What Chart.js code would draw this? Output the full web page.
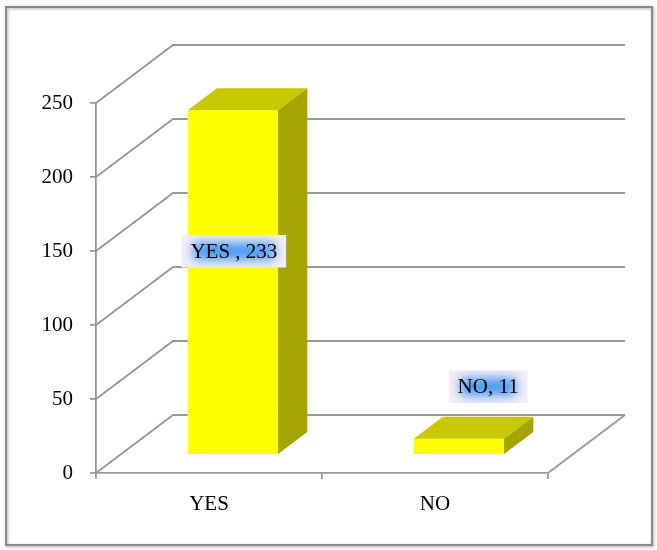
<!DOCTYPE html>
<html>
<head>
<meta charset="utf-8">
<script src="https://cdn.jsdelivr.net/npm/chart.js@4/dist/chart.umd.min.js"></script>
<style>
  html, body { margin: 0; padding: 0; background: #fff; }
  #wrap { width: 657px; height: 550px; position: relative; }
</style>
</head>
<body>
<div id="wrap"><canvas id="myChart"></canvas></div>
<script>
var categories = ['YES', 'NO'];
var counts = [233, 11];
var labelTexts = ['YES , 233', 'NO, 11'];
var yTicks = [0, 50, 100, 150, 200, 250];

// oblique depth of the walls and of the bars inside them
var DEPTH_X = 77, DEPTH_Y = -58;
var BAR_FRONT = 0.31, BAR_BACK = 0.69;
var GRID = '#989898';
var FONT = '"Liberation Serif", "Times New Roman", serif';

function poly(ctx, pts, fill) {
  ctx.beginPath();
  ctx.moveTo(pts[0][0], pts[0][1]);
  for (var i = 1; i < pts.length; i++) ctx.lineTo(pts[i][0], pts[i][1]);
  ctx.closePath();
  ctx.fillStyle = fill;
  ctx.fill();
}

function drawLabel(ctx, text, cx, cy) {
  ctx.save();
  ctx.font = '21px ' + FONT;
  var w = ctx.measureText(text).width + 18, h = 33;
  var x = cx - w / 2, y = cy - h / 2;
  ctx.beginPath();
  ctx.rect(x, y, w, h);
  ctx.clip();
  ctx.fillStyle = '#f6eef7';
  ctx.fillRect(x, y, w, h);
  ctx.filter = 'blur(6px)';
  ctx.fillStyle = '#3f95f3';
  ctx.fillRect(x + 12, y + 8, w - 24, h - 16);
  ctx.filter = 'none';
  ctx.fillStyle = '#000';
  ctx.textAlign = 'center';
  ctx.textBaseline = 'middle';
  ctx.fillText(text, cx, cy + 1);
  ctx.restore();
}

var box3d = {
  id: 'box3d',
  beforeDraw: function (chart) {
    var ctx = chart.ctx;
    ctx.save();
    ctx.fillStyle = '#fff';
    ctx.fillRect(0, 0, chart.width, chart.height);
    // outer frame
    ctx.shadowColor = 'rgba(0,0,0,0.35)';
    ctx.shadowBlur = 3;
    ctx.shadowOffsetX = 1;
    ctx.shadowOffsetY = 1;
    ctx.strokeStyle = '#8a8a8a';
    ctx.lineWidth = 2;
    ctx.strokeRect(6, 7, 646, 538);
    ctx.restore();
  },
  beforeDatasetsDraw: function (chart) {
    var ctx = chart.ctx, a = chart.chartArea, ys = chart.scales.y;
    ctx.save();
    ctx.strokeStyle = GRID;
    ctx.lineWidth = 1.8;
    yTicks.forEach(function (v) {
      var py = ys.getPixelForValue(v);
      ctx.beginPath();
      ctx.moveTo(a.left, py);
      ctx.lineTo(a.left + DEPTH_X, py + DEPTH_Y);
      ctx.lineTo(a.right + DEPTH_X, py + DEPTH_Y);
      ctx.stroke();
    });
    // right edge of the floor
    var p0 = ys.getPixelForValue(0);
    ctx.beginPath();
    ctx.moveTo(a.right, p0);
    ctx.lineTo(a.right + DEPTH_X, p0 + DEPTH_Y);
    ctx.stroke();
    ctx.restore();
  },
  afterDatasetsDraw: function (chart) {
    var ctx = chart.ctx;
    var meta = chart.getDatasetMeta(0);
    var fx = BAR_FRONT * DEPTH_X, fy = BAR_FRONT * DEPTH_Y;
    var bx = (BAR_BACK - BAR_FRONT) * DEPTH_X, by = (BAR_BACK - BAR_FRONT) * DEPTH_Y;
    meta.data.forEach(function (el, i) {
      var L = el.x - el.width / 2 + fx, R = el.x + el.width / 2 + fx;
      var T = el.y + fy, B = el.base + fy;
      poly(ctx, [[L, T], [R, T], [R, B], [L, B]], '#ffff00');
      poly(ctx, [[L, T], [R, T], [R + bx, T + by], [L + bx, T + by]], '#c9c900');
      poly(ctx, [[R, T], [R + bx, T + by], [R + bx, B + by], [R, B]], '#a5a500');
    });
    meta.data.forEach(function (el, i) {
      var L = el.x - el.width / 2 + fx, R = el.x + el.width / 2 + fx;
      var T = el.y + fy, B = el.base + fy;
      var cx, cy;
      if (B - T > 60) {
        cx = (L + R) / 2 + 1;
        cy = T + (B - T) * 0.41;
      } else {
        cx = (L + R) / 2 + bx;
        cy = T + by - 30;
      }
      drawLabel(ctx, labelTexts[i], cx, cy);
    });
  }
};

new Chart(document.getElementById('myChart'), {
  type: 'bar',
  data: {
    labels: categories,
    datasets: [{
      data: counts,
      backgroundColor: 'rgba(0,0,0,0)',
      borderWidth: 0,
      categoryPercentage: 1.0,
      barPercentage: 0.4
    }]
  },
  options: {
    responsive: true,
    maintainAspectRatio: false,
    animation: false,
    layout: { padding: { top: 103, right: 109, left: 0, bottom: 0 } },
    plugins: {
      legend: { display: false },
      tooltip: { enabled: false }
    },
    scales: {
      x: {
        offset: true,
        afterFit: function (s) { s.height = 77; },
        grid: { display: true, drawOnChartArea: false, offset: true, tickLength: 6, color: GRID, lineWidth: 1.8 },
        border: { display: true, color: GRID, width: 1.8 },
        ticks: { color: '#000', font: { family: FONT, size: 21 }, padding: 13 }
      },
      y: {
        min: 0,
        max: 250,
        afterFit: function (s) { s.width = 96; },
        afterBuildTicks: function (s) { s.ticks = yTicks.map(function (v) { return { value: v }; }); },
        grid: { display: true, drawOnChartArea: false, tickLength: 6, color: GRID, lineWidth: 1.8 },
        border: { display: true, color: GRID, width: 1.8 },
        ticks: { color: '#000', font: { family: FONT, size: 21 }, padding: 17 }
      }
    }
  },
  plugins: [box3d]
});
</script>
</body>
</html>
